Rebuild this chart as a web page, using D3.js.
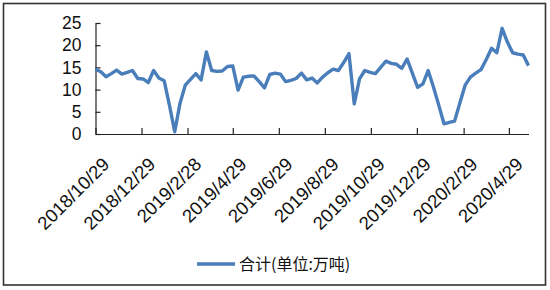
<!DOCTYPE html>
<html>
<head>
<meta charset="utf-8">
<script src="https://cdn.jsdelivr.net/npm/d3@7"></script>
<style>
  html, body { margin: 0; padding: 0; background: #fff; }
  svg { display: block; }
</style>
</head>
<body>
<svg id="chart" width="550" height="290"></svg>
<script>
// ---- data ----
const dates = [
  "2018-10-29","2018-11-05","2018-11-12","2018-11-19","2018-11-26","2018-12-03","2018-12-10","2018-12-17","2018-12-24","2018-12-31",
  "2019-01-07","2019-01-14","2019-01-21","2019-01-28","2019-02-04","2019-02-11","2019-02-18","2019-02-25","2019-03-04","2019-03-11",
  "2019-03-18","2019-03-25","2019-04-01","2019-04-08","2019-04-15","2019-04-22","2019-04-29","2019-05-06","2019-05-13","2019-05-20",
  "2019-05-27","2019-06-03","2019-06-10","2019-06-17","2019-06-24","2019-07-01","2019-07-08","2019-07-15","2019-07-22","2019-07-29",
  "2019-08-05","2019-08-12","2019-08-19","2019-08-26","2019-09-02","2019-09-09","2019-09-16","2019-09-23","2019-09-30","2019-10-07",
  "2019-10-14","2019-10-21","2019-10-28","2019-11-04","2019-11-11","2019-11-18","2019-11-25","2019-12-02","2019-12-09","2019-12-16",
  "2019-12-23","2019-12-30","2020-01-06","2020-01-13","2020-01-20","2020-01-27","2020-02-03","2020-02-10","2020-02-17","2020-02-24",
  "2020-03-02","2020-03-09","2020-03-16","2020-03-23","2020-03-30","2020-04-06","2020-04-13","2020-04-20","2020-04-27","2020-05-04",
  "2020-05-11","2020-05-18","2020-05-25"
];
const totals = [
  14.6,14.0,12.9,13.6,14.4,13.5,13.9,14.3,12.5,12.4,
  11.6,14.3,12.6,12.0,6.5,0.5,6.9,11.0,12.3,13.6,
  12.2,18.5,14.3,14.1,14.2,15.2,15.3,9.9,12.8,13.0,
  13.1,11.8,10.4,13.4,13.7,13.5,11.8,12.1,12.5,13.7,
  12.2,12.6,11.5,12.8,13.8,14.6,14.3,16.1,18.1,6.8,
  12.4,14.3,13.9,13.6,15.0,16.4,15.9,15.7,14.8,16.9,
  13.7,10.5,11.3,14.3,10.6,6.5,2.3,2.6,2.9,7.0,
  11.0,12.8,13.7,14.5,16.8,19.3,18.3,23.8,20.7,18.3,
  18.0,17.8,15.4
];
const xTickLabels = ["2018/10/29","2018/12/29","2019/2/28","2019/4/29","2019/6/29","2019/8/29","2019/10/29","2019/12/29","2020/2/29","2020/4/29"];
const yTicks = [0, 5, 10, 15, 20, 25];
const seriesName = "合计(单位:万吨)";

// ---- setup ----
const parseISO = d3.timeParse("%Y-%m-%d");
const parseLabel = d3.timeParse("%Y/%m/%d");
const points = dates.map((d, i) => ({ date: parseISO(d), value: totals[i] }));
const tickDates = xTickLabels.map(s => parseLabel(s));
const labelByTime = new Map(tickDates.map((d, i) => [+d, xTickLabels[i]]));

const svg = d3.select("#chart");
const FONT = "'Liberation Sans', Arial, Helvetica, sans-serif";
const LINE_COLOR = "#4a7ebb";

const x = d3.scaleTime()
  .domain([points[0].date, points[points.length - 1].date])
  .range([95.5, 528.5]);
const y = d3.scaleLinear().domain([0, 25]).range([134, 23]);

// outer frame
svg.append("rect")
  .attr("x", 3.5).attr("y", 3.5).attr("width", 542).attr("height", 281.5)
  .attr("fill", "none").attr("stroke", "#333").attr("stroke-width", 1.6);

// y axis
const yAxis = svg.append("g")
  .attr("transform", "translate(95.5,0)")
  .call(d3.axisLeft(y).tickValues(yTicks).tickSizeInner(-5).tickSizeOuter(0).tickPadding(14));
yAxis.select(".domain").attr("stroke", "#222").attr("stroke-width", 1.2);
yAxis.selectAll(".tick line").attr("stroke", "#222").attr("stroke-width", 1.2);
yAxis.selectAll(".tick text")
  .attr("font-family", FONT).attr("font-size", 17.5).attr("fill", "#111");

// x axis
const xAxis = svg.append("g")
  .attr("transform", "translate(0,134)")
  .call(d3.axisBottom(x).tickValues(tickDates).tickSizeInner(-6).tickSizeOuter(0)
    .tickFormat(d => labelByTime.get(+d)));
xAxis.select(".domain").attr("stroke", "#222").attr("stroke-width", 1.2);
xAxis.selectAll(".tick line").attr("stroke", "#222").attr("stroke-width", 1.2);
xAxis.selectAll(".tick text")
  .attr("font-family", FONT).attr("font-size", 18.5).attr("fill", "#111")
  .attr("text-anchor", "end")
  .attr("x", 0).attr("y", 0).attr("dy", "0.35em")
  .attr("transform", "translate(10,27) rotate(-45)");

// line
const line = d3.line()
  .x(d => x(d.date))
  .y(d => y(d.value));
svg.append("path")
  .datum(points)
  .attr("d", line)
  .attr("fill", "none")
  .attr("stroke", LINE_COLOR)
  .attr("stroke-width", 3.4)
  .attr("stroke-linejoin", "round")
  .attr("stroke-linecap", "butt");

// legend
const legend = svg.append("g").attr("transform", "translate(197,264)");
legend.append("line")
  .attr("x1", 0).attr("x2", 38).attr("y1", 0).attr("y2", 0)
  .attr("stroke", LINE_COLOR).attr("stroke-width", 3.5);
legend.append("text")
  .attr("x", 42).attr("y", 0).attr("dy", "0.36em")
  .attr("font-family", "'Noto Sans CJK SC', 'Noto Sans', sans-serif")
  .attr("font-size", 16).attr("fill", "#111")
  .text(seriesName);
</script>
</body>
</html>
